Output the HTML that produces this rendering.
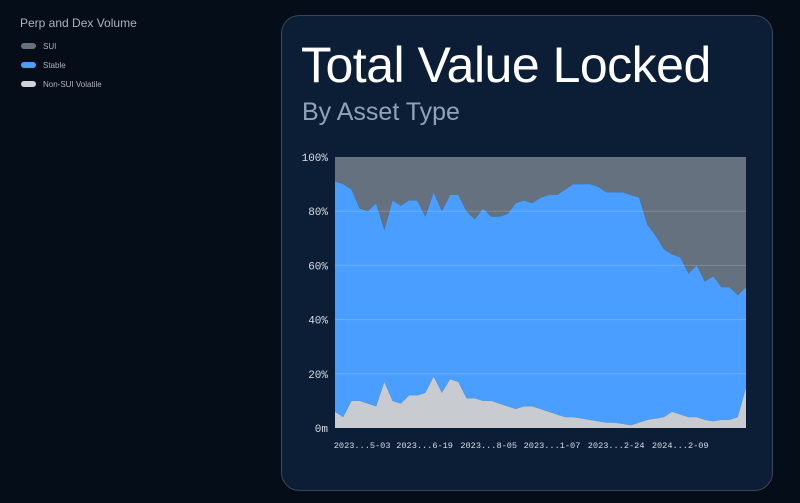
<!DOCTYPE html>
<html><head><meta charset="utf-8"><style>
html,body{margin:0;padding:0;background:#050d18;width:800px;height:503px;overflow:hidden;font-family:"Liberation Sans",sans-serif}
</style></head><body>
<svg width="800" height="503" xmlns="http://www.w3.org/2000/svg">
<rect x="0" y="0" width="800" height="503" fill="#050d18"/>
<g>
<text x="20" y="27" font-size="12" fill="#a9b4c2">Perp and Dex Volume</text>
<g><rect x="21" y="43" width="15" height="6" rx="3" fill="#66717f"/><text x="43" y="49" font-size="8" fill="#a9b4c2">SUI</text></g>
<g><rect x="21" y="62" width="15" height="6" rx="3" fill="#4a9eff"/><text x="43" y="68" font-size="8" fill="#a9b4c2">Stable</text></g>
<g><rect x="21" y="81" width="15" height="6" rx="3" fill="#d0d3d8"/><text x="43" y="87" font-size="8" fill="#a9b4c2">Non-SUI Volatile</text></g>
</g>
<rect x="281.5" y="15.5" width="491" height="475" rx="18" fill="#0c1e35" stroke="#3a4656"/>
<text x="301" y="82" font-size="50" letter-spacing="-0.5" fill="#ffffff">Total Value Locked</text>
<text x="302" y="120" font-size="25" fill="#8fa3b8">By Asset Type</text>
<g id="plot"></g>
</svg>
<script>
const categories = Array.from({length:51},(_,i)=>i);
const topTotal = [91,90,88,81,80,83,73,84,82,84,84,78,87,80,86,86,80,77,81,78,78,79,83,84,83,85,86,86,88,90,90,90,89,87,87,87,86,85,75,71,66,64,63,57,60,54,56,52,52,49,52];
const nonSui = [6,4,10,10,9,8,17,10,9,12,12,13,19,13,18,17,11,11,10,10,9,8,7,8,8,7,6,5,4,4,3.5,3,2.5,2,2,1.5,1,2,3,3.5,4,6,5,4,4,3,2.5,3,3,4,15];
const stable = topTotal.map((t,i)=>t-nonSui[i]);
const sui = topTotal.map(t=>100-t);
const yTicks = [0,20,40,60,80,100];
const yTickLabels = ["0m","20%","40%","60%","80%","100%"];
const xTickLabels = ["2023...5-03","2023...6-19","2023...8-05","2023...1-07","2023...2-24","2024...2-09"];
const xTickPos = [3.3,10.9,18.7,26.4,34.2,42.0];

const L=335,R=746,T=157,B=428;
const NS='http://www.w3.org/2000/svg';
const g=document.getElementById('plot');
const xs=i=>L+(R-L)*i/(categories.length-1);
const ys=v=>B-(B-T)*v/100;
function mk(tag,attrs){const e=document.createElementNS(NS,tag);for(const k in attrs)e.setAttribute(k,attrs[k]);g.appendChild(e);return e;}
function area(lo,hi,color,name){
  let d='M'+xs(0)+','+ys(hi[0]);
  for(let i=1;i<categories.length;i++)d+='L'+xs(i)+','+ys(hi[i]);
  for(let i=categories.length-1;i>=0;i--)d+='L'+xs(i)+','+ys(lo[i]);
  const p=mk('path',{d:d+'Z',fill:color});
  
  
}
const zero=categories.map(()=>0), hundred=categories.map(()=>100);
const c1=nonSui, c2=nonSui.map((v,i)=>v+stable[i]);
area(c2,hundred,'#66717f','area-sui');
area(c1,c2,'#4a9eff','area-stable');
area(zero,c1,'#c8cbcf','area-non-sui');
yTicks.forEach((v,i)=>{
  if(v>0&&v<100){const l=mk('line',{x1:L,x2:R,y1:ys(v),y2:ys(v),stroke:'rgba(255,255,255,0.18)','stroke-width':1});
  
  }
  const t=mk('text',{x:328,y:ys(v)+4,'font-size':11,'text-anchor':'end',fill:'#d8dde3','font-family':'Liberation Mono, monospace'});
  t.textContent=yTickLabels[i];
  
  
});
xTickLabels.forEach((s,i)=>{
  const t=mk('text',{x:xs(xTickPos[i]),y:448,'font-size':8.6,'text-anchor':'middle',fill:'#d8dde3','font-family':'Liberation Mono, monospace'});
  t.textContent=s;
  
  
});
</script>
</body></html>
